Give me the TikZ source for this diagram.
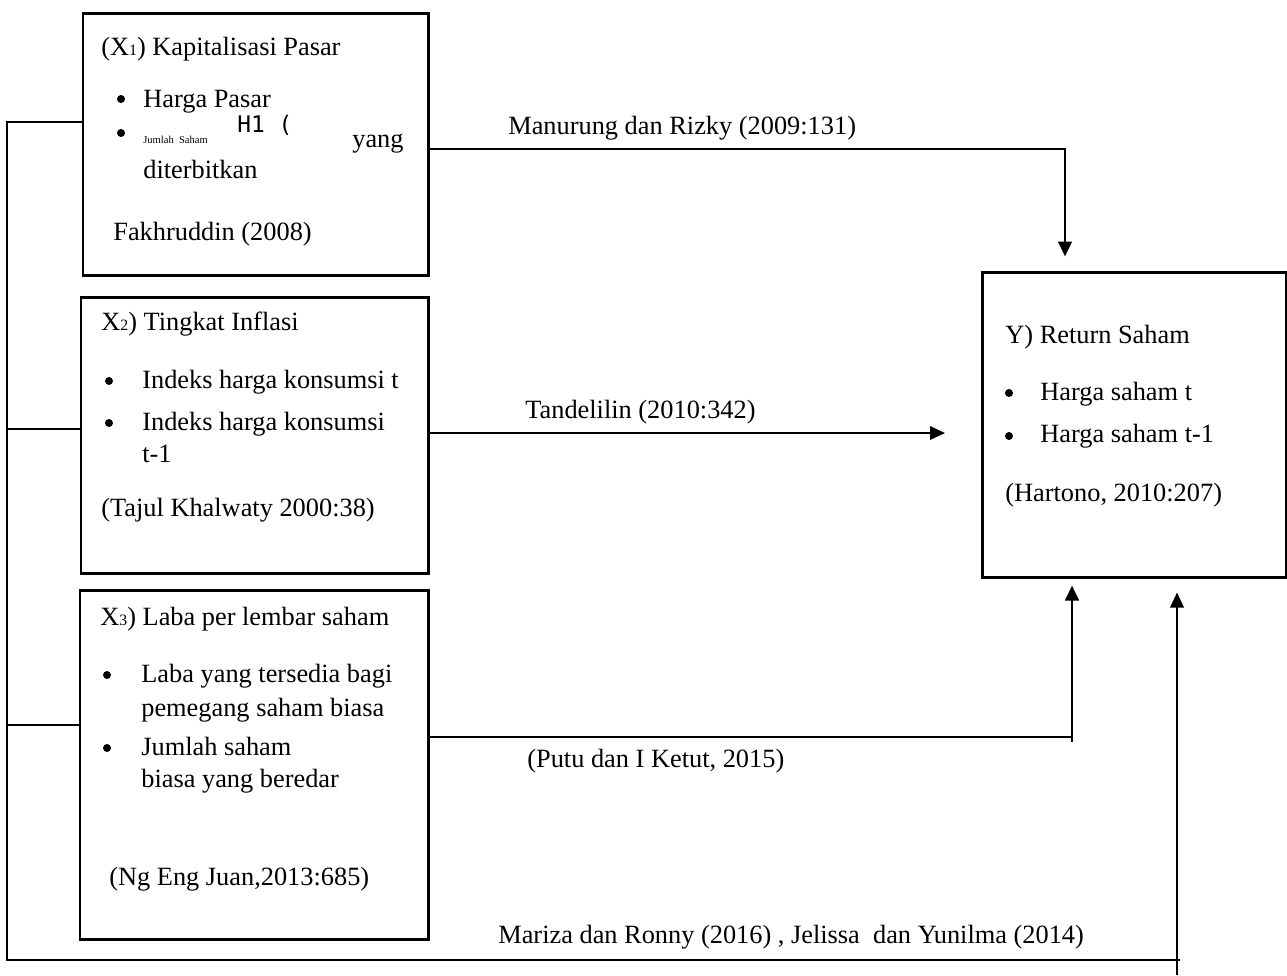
\documentclass[tikz,border=0pt]{standalone}
\usepackage{fontspec}
\setmainfont{Liberation Serif}
\newfontfamily\monofont{DejaVu Sans Mono}
\usetikzlibrary{arrows.meta,positioning,fit}

\newcommand{\subnum}[1]{{\fontsize{9}{9}\selectfont #1}}

\begin{document}
\begin{tikzpicture}[x=0.02cm,y=-0.02cm,
  box/.style={draw, line width=1.7pt, inner sep=0pt},
  txt/.style={anchor=base west, inner sep=0pt, font=\fontsize{15}{18}\selectfont},
  dot/.style={circle, fill, inner sep=0pt, minimum size=0.16cm},
  arr/.style={-{Triangle[length=0.3cm,width=0.27cm]}, line width=1.6pt},
  thinline/.style={line width=0.6pt}]

  \useasboundingbox (0,0) rectangle (1287,975);

  % Boxes
  \node[box, fit={(83,13) (428,275)}] (x1) {};
  \node[box, fit={(81,297) (428,573)}] (x2) {};
  \node[box, fit={(80,590) (428,939)}] (x3) {};
  \node[box, fit={(982,272) (1286,577)}] (y) {};

  % X1
  \node[txt] (x1t) at (101,55) {(X\subnum{1}) Kapitalisasi Pasar};
  \node[dot] (x1b1) at (121,99) {};
  \node[txt] (x1i1) at (143,107) {Harga Pasar};
  \node[dot] (x1b2) at (121,133) {};
  \node[txt, font=\fontsize{6}{7}\selectfont] (x1i2) at (143,143) {Jumlah\ \ Saham};
  \node[txt, font=\monofont\fontsize{13}{15}\selectfont] (x1h) at (237,132) {H1 (};
  \node[txt] (x1y) at (352,147) {yang};
  \node[txt] (x1i3) at (143,178) {diterbitkan};
  \node[txt] (x1s) at (113,240) {Fakhruddin (2008)};

  % X2
  \node[txt] (x2t) at (101,330) {X\subnum{2}) Tingkat Inflasi};
  \node[dot] (x2b1) at (109,381) {};
  \node[txt] (x2i1) at (142,388) {Indeks harga konsumsi t};
  \node[dot] (x2b2) at (109,423) {};
  \node[txt] (x2i2) at (142,430) {Indeks harga konsumsi};
  \node[txt] (x2i3) at (142,462) {t-1};
  \node[txt] (x2s) at (101,516) {(Tajul Khalwaty 2000:38)};

  % X3
  \node[txt] (x3t) at (100,625) {X\subnum{3}) Laba per lembar saham};
  \node[dot] (x3b1) at (107,675) {};
  \node[txt] (x3i1) at (141,682) {Laba yang tersedia bagi};
  \node[txt] (x3i2) at (141,716) {pemegang saham biasa};
  \node[dot] (x3b2) at (107,748) {};
  \node[txt] (x3i3) at (141,755) {Jumlah saham};
  \node[txt] (x3i4) at (141,787) {biasa yang beredar};
  \node[txt] (x3s) at (109,885) {(Ng Eng Juan,2013:685)};

  % Y
  \node[txt] (yt) at (1005,343) {Y) Return Saham};
  \node[dot] (yb1) at (1009,393) {};
  \node[txt] (yi1) at (1040,400) {Harga saham t};
  \node[dot] (yb2) at (1009,436) {};
  \node[txt] (yi2) at (1040,442) {Harga saham t-1};
  \node[txt] (ys) at (1005,501) {(Hartono, 2010:207)};

  % labels
  \node[txt] (lbl1) at (508,134) {Manurung dan Rizky (2009:131)};
  \node[txt] (lbl2) at (525,418) {Tandelilin (2010:342)};
  \node[txt] (lbl3) at (527,767) {(Putu dan I Ketut, 2015)};
  \node[txt] (lbl4) at (498,943) {Mariza dan Ronny (2016) , Jelissa\ \ dan Yunilma (2014)};

  % H1
  \coordinate (m1) at (1065,149);
  \draw[arr, shorten >=0.28cm] (m1 -| x1.east) -- (m1) -- (m1 |- y.north);
  % H2
  \coordinate (m2) at (945,433);
  \coordinate (m2a) at (680,433);
  \draw[arr, line width=1pt] (m2 -| x2.east) -- (m2);
  \draw[line width=1.6pt] (m2 -| x2.east) -- (m2a);
  % H3
  \coordinate (m3) at (1072,737);
  \coordinate (m3b) at (1072,742);
  \draw[thinline] (m3 -| x3.east) -- (m3);
  \draw[arr, shorten >=0.14cm] (m3b) -- (m3b |- y.south);
  % H4 (simultan)
  \coordinate (b1) at (7,122);
  \coordinate (b2) at (7,429);
  \coordinate (b3) at (7,725);
  \coordinate (b4) at (7,960);
  \coordinate (r4) at (1177,975);
  \draw[thinline] (b1 -| x1.west) -- (b1) -- (b4) -- ([xshift=0.06cm]b4 -| r4);
  \draw[thinline] (b2) -- (b2 -| x2.west);
  \draw[thinline] (b3) -- (b3 -| x3.west);
  \draw[arr, line width=1.1pt, shorten >=0.28cm] (r4) -- (r4 |- y.south);
\end{tikzpicture}
\end{document}
